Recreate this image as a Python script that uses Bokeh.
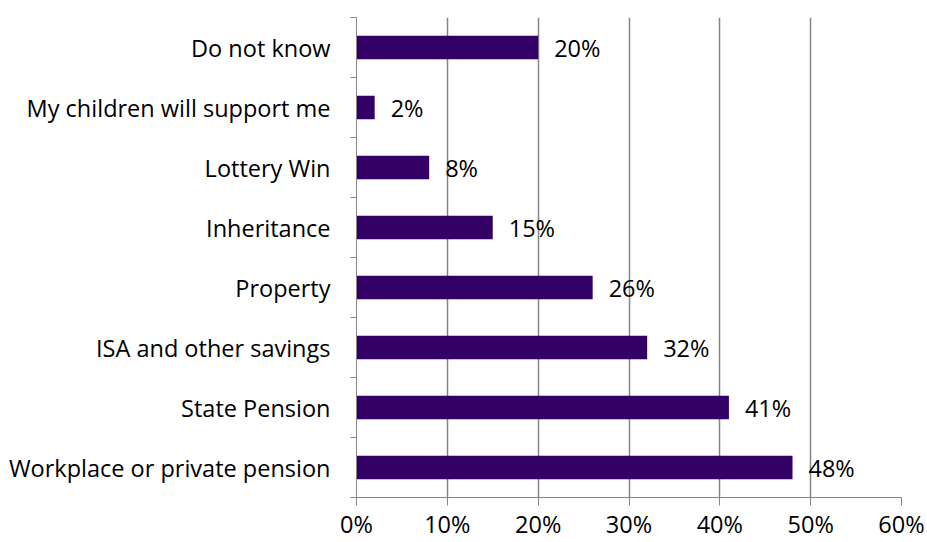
from bokeh.plotting import figure
from bokeh.models import Range1d, FixedTicker, LinearAxis, ColumnDataSource
from bokeh.core.properties import value
from bokeh.embed import file_html
from bokeh.resources import INLINE

categories = ["Workplace or private pension", "State Pension", "ISA and other savings",
              "Property", "Inheritance", "Lottery Win", "My children will support me", "Do not know"]
values = [48, 41, 32, 26, 15, 8, 2, 20]
x_ticks = [0, 10, 20, 30, 40, 50, 60]
x_tick_labels = {t: f"{t}%" for t in x_ticks}

FONT = "Open Sans"
FS = "23.5px"
BAR = "#330066"
GRID = "#868686"

ypos = [i + 0.5 for i in range(len(categories))]
src = ColumnDataSource(dict(y=ypos, v=values, lab=[f"{v}%" for v in values]))

p = figure(width=927, height=542, output_backend="svg", toolbar_location=None,
           x_range=Range1d(0, 60), y_range=Range1d(0, len(categories)),
           min_border_left=356, min_border_right=26, min_border_top=17, min_border_bottom=45,
           x_axis_location=None, y_axis_location=None)
p.outline_line_color = None
p.background_fill_color = "white"
p.border_fill_color = "white"

p.hbar(y="y", right="v", left=0, height=0.39, source=src, fill_color=BAR, line_color=None)
p.text(x="v", y="y", text="lab", source=src, x_offset=16, text_baseline="middle", text_align="left",
       text_font=value(FONT), text_font_size=FS, text_color="black")

# x axis
xa = LinearAxis(ticker=FixedTicker(ticks=x_ticks), major_label_overrides=x_tick_labels)
xa.axis_line_color = GRID
xa.major_tick_line_color = GRID
xa.major_tick_out = 8
xa.major_tick_in = 0
xa.minor_tick_line_color = None
xa.major_label_text_font = FONT
xa.major_label_text_font_size = FS
xa.major_label_text_color = "black"
xa.major_label_standoff = 2
p.add_layout(xa, "below")

# y axis: labels at centers, ticks at category boundaries
ya = LinearAxis(ticker=FixedTicker(ticks=ypos, minor_ticks=list(range(len(categories) + 1))),
                major_label_overrides={y: c for y, c in zip(ypos, categories)})
ya.axis_line_color = GRID
ya.major_tick_line_color = None
ya.major_tick_out = 0
ya.major_tick_in = 0
ya.minor_tick_line_color = GRID
ya.minor_tick_out = 6
ya.minor_tick_in = 0
ya.major_label_text_font = FONT
ya.major_label_text_font_size = FS
ya.major_label_text_color = "black"
ya.major_label_standoff = 20
p.add_layout(ya, "left")

p.xgrid.ticker = FixedTicker(ticks=x_ticks[1:])
p.xgrid.grid_line_color = GRID
p.xgrid.grid_line_width = 1.5
p.ygrid.grid_line_color = None

open("out.html", "w").write(file_html(p, INLINE))
